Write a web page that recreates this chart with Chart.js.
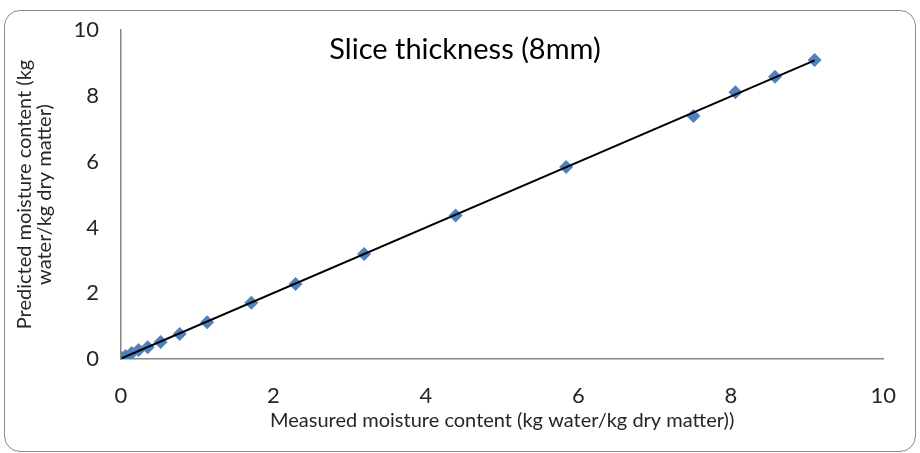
<!DOCTYPE html>
<html>
<head>
<meta charset="utf-8">
<script src="https://cdn.jsdelivr.net/npm/chart.js@4/dist/chart.umd.min.js"></script>
<style>
  html, body { margin: 0; padding: 0; background: #fff; }
  #wrap { position: relative; width: 920px; height: 453px; }
  #frame {
    position: absolute; left: 4px; top: 10px; width: 910px; height: 440px;
    border: 1.5px solid #8c8c8c; border-radius: 16px;
  }
  #chart { position: absolute; left: 0; top: 0; }
</style>
</head>
<body>
<div id="wrap">
  <div id="frame"></div>
  <canvas id="chart" width="920" height="453"></canvas>
</div>
<script>
// 数据: 实测 vs 预测含水率
const measured  = [0.01, 0.06, 0.14, 0.23, 0.35, 0.52, 0.77, 1.13, 1.71, 2.29, 3.19, 4.39, 5.84, 7.51, 8.06, 8.58, 9.10];
const predicted = [0.03, 0.09, 0.18, 0.27, 0.36, 0.52, 0.76, 1.12, 1.71, 2.28, 3.19, 4.36, 5.84, 7.39, 8.11, 8.58, 9.09];
const tickValues = [0, 2, 4, 6, 8, 10];

const chartTitle = 'Slice thickness (8mm)';
const xTitle = 'Measured moisture content (kg water/kg dry matter))';
const yTitle = ['Predicted moisture content (kg', 'water/kg dry matter)'];

// 线性趋势线 (最小二乘)
function trendPoints() {
    const n = measured.length;
    const mx = measured.reduce((a, b) => a + b, 0) / n;
    const my = predicted.reduce((a, b) => a + b, 0) / n;
    let sxy = 0, sxx = 0;
    for (let i = 0; i < n; i++) {
        sxy += (measured[i] - mx) * (predicted[i] - my);
        sxx += (measured[i] - mx) * (measured[i] - mx);
    }
    const slope = sxy / sxx;
    const icpt = my - slope * mx;
    const x0 = Math.min(...measured), x1 = Math.max(...measured);
    return [{ x: x0, y: icpt + slope * x0 }, { x: x1, y: icpt + slope * x1 }];
}

const fontFamily = 'Lato, "Open Sans", sans-serif';

// 图内标题
const innerTitle = {
    id: 'innerTitle',
    afterDraw(chart) {
        const ctx = chart.ctx;
        ctx.save();
        ctx.font = '29px ' + fontFamily;
        ctx.fillStyle = '#000';
        ctx.textAlign = 'center';
        ctx.textBaseline = 'middle';
        ctx.fillText(chartTitle, 465, 50);
        ctx.restore();
    }
};

new Chart(document.getElementById('chart'), {
    type: 'scatter',
    data: {
        datasets: [
            {
                type: 'line',
                data: trendPoints(),
                borderColor: '#000',
                borderWidth: 2,
                pointRadius: 0,
                fill: false
            },
            {
                data: measured.map((x, i) => ({ x: x, y: predicted[i] })),
                pointStyle: 'rectRot',
                pointRadius: 7,
                pointHoverRadius: 7,
                backgroundColor: '#4F81BD',
                borderColor: '#4F81BD',
                borderWidth: 0
            }
        ]
    },
    options: {
        responsive: false,
        animation: false,
        events: [],
        layout: { padding: { top: 10, right: 36, left: 0, bottom: 0 } },
        plugins: {
            legend: { display: false },
            tooltip: { enabled: false }
        },
        scales: {
            x: {
                type: 'linear',
                min: 0,
                max: 10,
                afterBuildTicks: s => { s.ticks = tickValues.map(v => ({ value: v })); },
                afterFit: s => { s.height = 94; },
                grid: { display: false, drawTicks: false },
                border: { display: true, color: '#868686', width: 1.5 },
                ticks: { padding: 24, color: '#262626', font: { family: fontFamily, size: 22 } },
                title: {
                    display: true,
                    text: xTitle,
                    color: '#262626',
                    padding: { top: 0, bottom: 22 },
                    font: { family: fontFamily, size: 20, lineHeight: 1 }
                }
            },
            y: {
                type: 'linear',
                min: 0,
                max: 10,
                afterBuildTicks: s => { s.ticks = tickValues.map(v => ({ value: v })); },
                afterFit: s => { s.width = 121; },
                grid: { display: false, drawTicks: false },
                border: { display: true, color: '#868686', width: 1.5 },
                ticks: { padding: 22, color: '#262626', font: { family: fontFamily, size: 22, lineHeight: 0.73 } },
                title: {
                    display: true,
                    text: yTitle,
                    color: '#262626',
                    padding: { top: 15, bottom: 0 },
                    font: { family: fontFamily, size: 20, lineHeight: 1 }
                }
            }
        }
    },
    plugins: [innerTitle]
});
</script>
</body>
</html>
